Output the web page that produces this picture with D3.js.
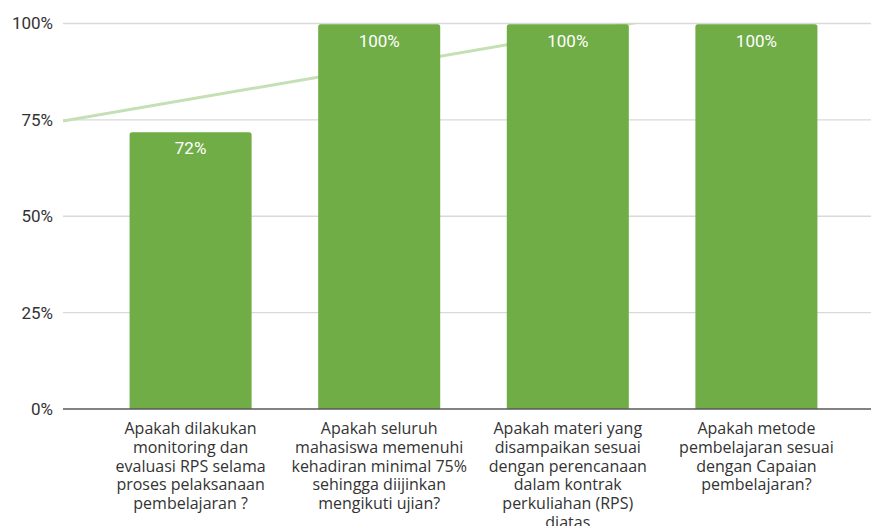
<!DOCTYPE html>
<meta charset="utf-8">
<title>Kuesioner RPS</title>
<style>
  body { margin: 0; background: #fff; }
  svg { display: block; }
</style>
<svg width="871" height="526"></svg>
<script src="https://d3js.org/d3.v7.min.js"></script>
<script>

  // data
  var categories = ["q1", "q2", "q3", "q4"];
  var values = [72, 100, 100, 100];
  var labelLines = [
    ["Apakah dilakukan", "monitoring dan", "evaluasi RPS selama", "proses pelaksanaan", "pembelajaran ?"],
    ["Apakah seluruh", "mahasiswa memenuhi", "kehadiran minimal 75%", "sehingga diijinkan", "mengikuti ujian?"],
    ["Apakah materi yang", "disampaikan sesuai", "dengan perencanaan", "dalam kontrak", "perkuliahan (RPS)", "diatas"],
    ["Apakah metode", "pembelajaran sesuai", "dengan Capaian", "pembelajaran?"]
  ];
  var yTicks = [0, 25, 50, 75, 100];

  var svg = d3.select("svg");

  var x = d3.scaleBand()
      .domain(categories)
      .range([63, 884])
      .padding(0.353);

  var y = d3.scaleLinear()
      .domain([0, 100])
      .range([409, 23.5]);

  // gridlines
  svg.append("g").selectAll("line")
      .data(yTicks.filter(function(d) { return d > 0; }))
      .enter().append("line")
      .attr("x1", 63).attr("x2", 884)
      .attr("y1", function(d) { return y(d); })
      .attr("y2", function(d) { return y(d); })
      .attr("stroke", "#d9d9d9")
      .attr("stroke-width", 1.3);

  // y labels
  svg.append("g").selectAll("text")
      .data(yTicks)
      .enter().append("text")
      .attr("x", 53)
      .attr("y", function(d) { return y(d); })
      .attr("dy", "0.35em")
      .attr("text-anchor", "end")
      .attr("font-family", "Roboto, sans-serif")
      .attr("font-size", 17)
      .attr("fill", "#333")
      .text(function(d) { return d + "%"; });

  // linear trendline from the values (behind the bars)
  var mx = d3.mean(values, function(d, i) { return i + 1; }),
      my = d3.mean(values),
      slope = d3.sum(values, function(d, i) { return (i + 1 - mx) * (d - my); }) /
              d3.sum(values, function(d, i) { return (i + 1 - mx) * (i + 1 - mx); });
  var step = x.step(),
      c0 = x(categories[0]) + x.bandwidth() / 2;
  function toIdx(px) { return 1 + (px - c0) / step; }
  function trend(k) { return my + slope * (k - mx); }

  svg.append("defs").append("clipPath").attr("id", "plot")
      .append("rect").attr("x", 63).attr("y", y(100)).attr("width", 821).attr("height", y(0) - y(100));

  svg.append("line")
      .attr("clip-path", "url(#plot)")
      .attr("x1", 63).attr("y1", y(trend(toIdx(63))))
      .attr("x2", 884).attr("y2", y(trend(toIdx(884))))
      .attr("stroke", "#c5e0b4")
      .attr("stroke-width", 3);

  // bars, rounded top corners
  var r = 2.5;
  svg.append("g").selectAll("path")
      .data(values)
      .enter().append("path")
      .attr("fill", "#70ad47")
      .attr("d", function(d, i) {
        var x0 = x(categories[i]), w = x.bandwidth(), t = y(d) + 0.8, b = y(0);
        return "M" + x0 + "," + b + "V" + (t + r) + "Q" + x0 + "," + t + " " + (x0 + r) + "," + t +
          "H" + (x0 + w - r) + "Q" + (x0 + w) + "," + t + " " + (x0 + w) + "," + (t + r) + "V" + b + "Z";
      });

  // value labels
  svg.append("g").selectAll("text")
      .data(values)
      .enter().append("text")
      .attr("x", function(d, i) { return x(categories[i]) + x.bandwidth() / 2; })
      .attr("y", function(d) { return y(d) + 23; })
      .attr("text-anchor", "middle")
      .attr("font-family", "Roboto, sans-serif")
      .attr("font-size", 17)
      .attr("fill", "#fff")
      .text(function(d) { return d + "%"; });

  // x axis line
  svg.append("line")
      .attr("x1", 63).attr("x2", 884)
      .attr("y1", y(0)).attr("y2", y(0))
      .attr("stroke", "#595959")
      .attr("stroke-width", 1.5);

  // category labels
  var lbl = svg.append("g").selectAll("text")
      .data(labelLines)
      .enter().append("text")
      .attr("text-anchor", "middle")
      .attr("font-family", "'Open Sans', sans-serif")
      .attr("font-size", 16)
      .attr("fill", "#333");
  lbl.each(function(lines, i) {
    var cx = x(categories[i]) + x.bandwidth() / 2;
    d3.select(this).selectAll("tspan")
        .data(lines)
        .enter().append("tspan")
        .attr("x", cx)
        .attr("y", function(d, j) { return 434 + j * 18.8; })
        .text(function(d) { return d; });
  });

</script>
